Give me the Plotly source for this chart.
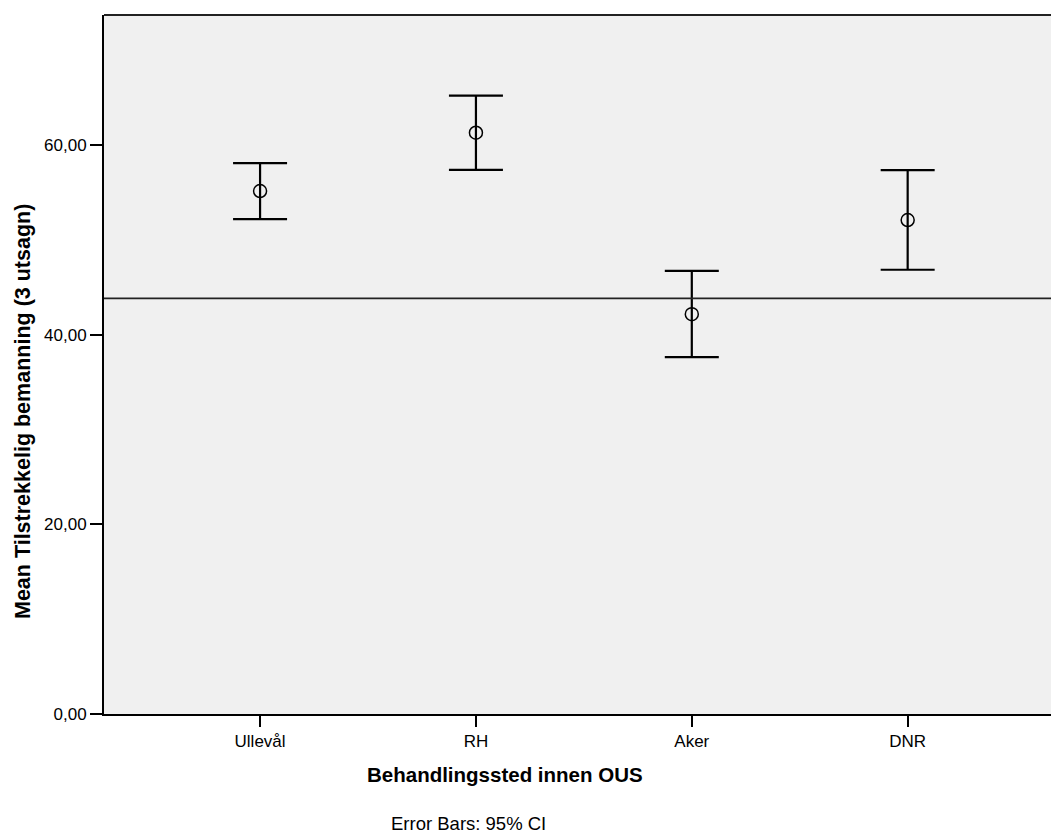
import plotly.graph_objects as go

categories = ["Ullevål", "RH", "Aker", "DNR"]
means = [55.14, 61.29, 42.16, 52.08]
ci_upper = [58.09, 65.19, 46.73, 57.35]
ci_lower = [52.18, 57.38, 37.63, 46.84]
reference_line = 43.82
y_ticks = [0, 20, 40, 60]
y_tick_labels = ["0,00", "20,00", "40,00", "60,00"]

err_plus = [u - m for u, m in zip(ci_upper, means)]
err_minus = [m - l for m, l in zip(means, ci_lower)]

FONT = "Liberation Sans, Arial, sans-serif"

fig = go.Figure()
fig.add_trace(go.Scatter(
    x=categories, y=means, mode="markers",
    marker=dict(symbol="circle-open", size=13, color="black", line=dict(width=1.5, color="black")),
    error_y=dict(type="data", symmetric=False, array=err_plus, arrayminus=err_minus,
                 color="black", thickness=2.2, width=27),
    showlegend=False, hoverinfo="skip",
))

fig.add_shape(type="line", xref="paper", yref="y", x0=0, x1=1, y0=reference_line, y1=reference_line,
              line=dict(color="#222222", width=1.6), layer="above")
fig.add_shape(type="line", xref="paper", yref="paper", x0=0, x1=1, y0=1, y1=1,
              line=dict(color="#222222", width=2), layer="above")

fig.update_layout(
    width=1051, height=838,
    margin=dict(l=104, r=0, t=15, b=124),
    paper_bgcolor="white", plot_bgcolor="#f0f0f0",
    font=dict(family=FONT, color="black"),
    xaxis=dict(
        type="category", range=[-0.723, 3.664],
        showgrid=False, zeroline=False,
        showline=True, linecolor="black", linewidth=2,
        ticks="outside", ticklen=11, tickwidth=2, tickcolor="black",
        tickfont=dict(size=17, family=FONT, color="black"),
    ),
    yaxis=dict(
        range=[0, 73.7], tickvals=y_ticks, ticktext=y_tick_labels,
        showgrid=False, zeroline=False,
        showline=True, linecolor="black", linewidth=2,
        ticks="outside", ticklen=12, tickwidth=2, tickcolor="black",
        tickfont=dict(size=17, family=FONT, color="black"),
    ),
    annotations=[
        dict(text="<b>Behandlingssted innen OUS</b>", xref="paper", yref="paper",
             x=(505 - 104) / 947, y=-(774 - 714) / 699, xanchor="center", yanchor="middle",
             showarrow=False, font=dict(size=20.5, family=FONT, color="black")),
        dict(text="Error Bars: 95% CI", xref="paper", yref="paper",
             x=(468 - 104) / 947, y=-(823 - 714) / 699, xanchor="center", yanchor="middle",
             showarrow=False, font=dict(size=18.5, family=FONT, color="black")),
        dict(text="<b>Mean Tilstrekkelig bemanning (3 utsagn)</b>", xref="paper", yref="paper",
             x=(23 - 104) / 947, y=(714 - 412) / 699, xanchor="center", yanchor="middle",
             textangle=-90, showarrow=False, font=dict(size=21.5, family=FONT, color="black")),
    ],
)

fig.write_html("out.html")
